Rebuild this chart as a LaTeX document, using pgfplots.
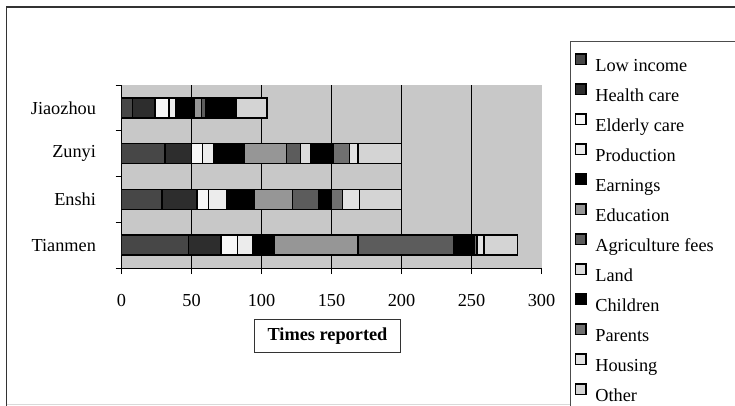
\documentclass[border=0pt]{standalone}
\usepackage{pgfplots}
\pgfplotsset{compat=1.18}
\usepackage{fontspec}
\setmainfont{Liberation Serif}
\definecolor{cLow}{HTML}{474747}
\definecolor{cHealth}{HTML}{2D2D2D}
\definecolor{cElder}{HTML}{F7F7F7}
\definecolor{cProd}{HTML}{ECECEC}
\definecolor{cEarn}{HTML}{000000}
\definecolor{cEdu}{HTML}{969696}
\definecolor{cAgri}{HTML}{5C5C5C}
\definecolor{cLand}{HTML}{DCDCDC}
\definecolor{cChild}{HTML}{000000}
\definecolor{cParent}{HTML}{707070}
\definecolor{cHouse}{HTML}{E3E3E3}
\definecolor{cOther}{HTML}{D4D4D4}
\definecolor{cBg}{HTML}{C8C8C8}
\begin{document}
\begin{tikzpicture}[font=\fontsize{18.3}{22}\selectfont]
\useasboundingbox (0pt,0pt) rectangle (735pt,405pt);
\draw[line width=1.3pt, black!80] (6.5pt,-5pt) -- (6.5pt,398pt) -- (745pt,398pt);
\draw[black!15, line width=0.8pt] (6.5pt,1pt) -- (745pt,1pt);
\draw[black!70, line width=0.9pt, fill=white] (570.5pt,-10pt) rectangle (745pt,363.5pt);
\begin{scope}[shift={(121.5pt,137pt)}]
\begin{axis}[
  at={(0pt,0pt)}, anchor=south west,
  scale only axis, width=420pt, height=183pt,
  xbar stacked, bar width=20pt,
  xmin=0, xmax=300, ymin=-0.5, ymax=3.5,
  axis background/.style={fill=cBg},
  axis lines*=left,
  axis line style={-, line width=1pt, black},
  xtick={0,50,...,250},
  extra x ticks={300}, extra x tick style={grid=none},
  xmajorgrids, major grid style={black, line width=0.8pt},
  tick align=outside, major tick length=6pt,
  tick style={black, line width=0.8pt},
  /pgf/number format/assume math mode=true,
  ticklabel style={font=\fontsize{18.3}{22}\selectfont},
  xticklabel style={yshift=-17pt},
  ytick={-0.5,0.5,1.5,2.5,3.5}, yticklabels={},
  extra y ticks={0,1,2,3},
  extra y tick labels={Tianmen,Enshi,Zunyi,Jiaozhou},
  extra y tick style={major tick length=0pt, yticklabel style={anchor=east, xshift=-22pt}},
  every axis plot/.append style={draw=black, line width=1.4pt},
  xlabel={\textbf{Times reported}},
  every axis x label/.style={at={(axis description cs:0.5,0)}, anchor=center, xshift=-4pt, yshift=-68pt, draw=black!80, line width=0.8pt, inner xsep=13pt, inner ysep=8pt, font=\fontsize{18.3}{22}\selectfont},
  legend cell align=left,
  legend style={at={(axis description cs:1,1)}, anchor=north west, xshift=30pt, yshift=34pt, draw=none, fill=none, row sep=2.85pt,
    font=\fontsize{18.3}{22}\selectfont,
    nodes={inner ysep=4pt, text height=13pt, text depth=5pt}},
  legend image code/.code={\draw[#1, draw=black, line width=1.3pt] (0pt,3pt) rectangle (10.5pt,13.5pt); \path[draw=none, fill=none] (18pt,3pt) -- (18pt,4pt);},
]
\addplot[fill=cLow] coordinates {(48,0) (29,1) (31,2) (8,3)};
\addplot[fill=cHealth] coordinates {(23,0) (25,1) (19,2) (16,3)};
\addplot[fill=cElder] coordinates {(12,0) (8,1) (8,2) (10,3)};
\addplot[fill=cProd] coordinates {(11,0) (13,1) (8,2) (5,3)};
\addplot[fill=cEarn] coordinates {(15,0) (20,1) (22,2) (13,3)};
\addplot[fill=cEdu] coordinates {(60,0) (27,1) (30,2) (5,3)};
\addplot[fill=cAgri] coordinates {(68,0) (19,1) (10,2) (3,3)};
\addplot[fill=cLand] coordinates {(0,0) (0,1) (7,2) (0,3)};
\addplot[fill=cChild] coordinates {(15,0) (9,1) (16,2) (22,3)};
\addplot[fill=cParent] coordinates {(2,0) (8,1) (12,2) (0,3)};
\addplot[fill=cHouse] coordinates {(5,0) (12,1) (6,2) (0,3)};
\addplot[fill=cOther] coordinates {(24,0) (30,1) (31,2) (22,3)};
\legend{Low income,Health care,Elderly care,Production,Earnings,Education,Agriculture fees,Land,Children,Parents,Housing,Other}
\end{axis}
\end{scope}
\end{tikzpicture}
\end{document}
